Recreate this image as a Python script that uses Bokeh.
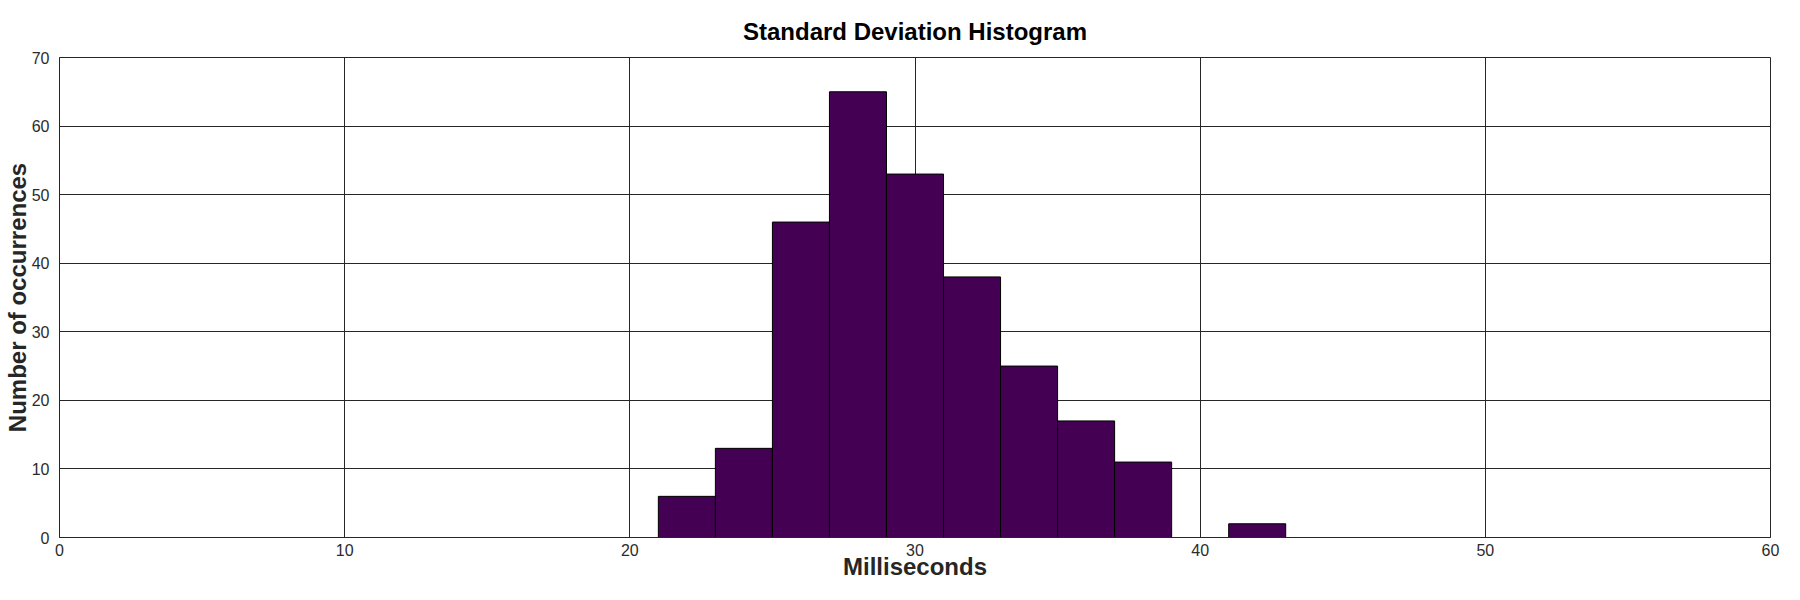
from bokeh.plotting import figure
from bokeh.models import Range1d, FixedTicker
from bokeh.embed import file_html
from bokeh.resources import INLINE

# Data
bin_edges = [21, 23, 25, 27, 29, 31, 33, 35, 37, 39, 41, 43]
counts = [6, 13, 46, 65, 53, 38, 25, 17, 11, 0, 2]
x_ticks = [0, 10, 20, 30, 40, 50, 60]
y_ticks = [0, 10, 20, 30, 40, 50, 60, 70]

title_text = "Standard Deviation Histogram"
x_label = "Milliseconds"
y_label = "Number of occurrences"

FONT = "Liberation Sans"
DARK = "#262626"

p = figure(width=1784, height=584, output_backend="svg", toolbar_location=None,
           x_range=Range1d(x_ticks[0], x_ticks[-1]), y_range=Range1d(y_ticks[0], y_ticks[-1]),
           min_border_left=59, min_border_right=14, min_border_top=57, min_border_bottom=47)

p.title.text = title_text
p.title.text_font = FONT
p.title.text_font_size = "24px"
p.title.text_font_style = "bold"
p.title.text_color = "#000000"
p.title.align = "center"
p.title.vertical_align = "bottom"
p.title.standoff = 26

p.quad(left=bin_edges[:-1], right=bin_edges[1:], bottom=0, top=counts,
       fill_color="#440154", line_color="#000000", line_width=1)

p.xaxis.ticker = FixedTicker(ticks=x_ticks)
p.yaxis.ticker = FixedTicker(ticks=y_ticks)
p.xaxis.minor_tick_line_color = None
p.yaxis.minor_tick_line_color = None
for ax in (p.xaxis, p.yaxis):
    ax.major_tick_line_color = None
    ax.major_tick_in = 0
    ax.major_tick_out = 0
    ax.axis_line_color = DARK
    ax.major_label_text_font = FONT
    ax.major_label_text_font_size = "16px"
    ax.major_label_text_color = "#2b2b2b"
    ax.axis_label_text_font = FONT
    ax.axis_label_text_font_size = "24px"
    ax.axis_label_text_font_style = "bold"
    ax.axis_label_text_color = DARK

p.xaxis.axis_label = x_label
p.yaxis.axis_label = y_label
p.xaxis.major_label_standoff = 6
p.yaxis.major_label_standoff = 10
p.xaxis.axis_label_standoff = -6
p.yaxis.axis_label_standoff = -2

p.xgrid.grid_line_color = DARK
p.ygrid.grid_line_color = DARK
p.xgrid.grid_line_alpha = 1.0
p.ygrid.grid_line_alpha = 1.0
p.xgrid.grid_line_width = 1
p.ygrid.grid_line_width = 1

p.outline_line_color = DARK
p.outline_line_alpha = 1.0
p.outline_line_width = 1
p.background_fill_color = "#ffffff"
p.border_fill_color = "#ffffff"

open("out.html", "w").write(file_html(p, INLINE))
